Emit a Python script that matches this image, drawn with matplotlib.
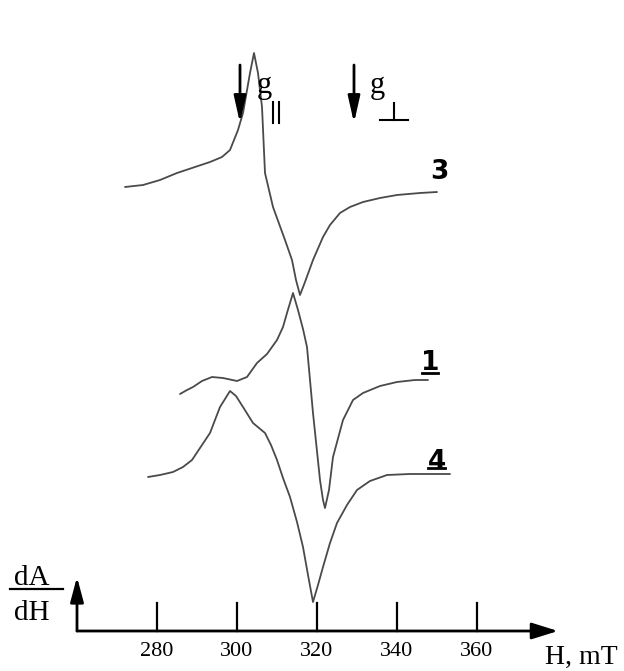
import numpy as np
import matplotlib
matplotlib.use('Agg')
import matplotlib.pyplot as plt

# EPR spectra, field H in mT, signal dA/dH in arbitrary units (curves shifted vertically)
h3 = [272.0, 276.5, 280.75, 285.0, 289.5, 293.25, 296.25, 298.25, 300.25, 301.5, 303.25, 304.25,
      305.25, 306.25, 307.0, 309.0, 312.0, 313.75, 314.75, 315.75, 317.0, 319.0, 321.5, 323.25,
      325.75, 328.25, 331.5, 335.75, 340.0, 345.75, 350.0]
s3 = [444, 446, 451, 458, 464, 469, 474, 481, 501, 518, 558, 578,
      558, 524, 458, 424, 391, 371, 351, 336, 349, 371, 394, 406,
      418, 424, 429, 433, 436, 438, 439]

h1 = [285.75, 287.5, 289.0, 291.25, 293.75, 296.5, 300.0, 302.5, 305.0, 307.5, 310.0, 311.5,
      312.5, 314.0, 315.25, 316.5, 317.5, 319.0, 320.75, 321.5, 322.0, 323.0, 324.0, 326.5,
      329.0, 331.5, 335.75, 340.0, 344.5, 347.75]
s1 = [237, 241, 244, 250, 254, 253, 250, 254, 268, 277, 291, 304,
      318, 338, 321, 302, 284, 218, 151, 131, 123, 141, 174, 211,
      231, 238, 245, 249, 251, 251]

h4 = [277.75, 280.75, 284.0, 286.5, 288.75, 290.75, 293.25, 295.75, 298.25, 299.75, 301.5, 304.0,
      307.0, 308.5, 310.0, 311.5, 313.25, 315.0, 316.5, 317.75, 319.0, 320.25, 321.5, 323.25,
      325.0, 327.5, 330.0, 333.25, 337.5, 343.25, 348.25, 353.25]
s4 = [154, 156, 159, 164, 171, 183, 198, 224, 240, 235, 224, 208,
      198, 186, 171, 153, 134, 109, 84, 56, 29, 46, 64, 88,
      108, 126, 141, 150, 156, 157, 157, 157]

tick_vals = [280, 300, 320, 340, 360]
g_par = 300.75   # g|| position
g_perp = 329.25  # g_perp position

plt.rcParams['font.family'] = ['Liberation Serif', 'DejaVu Serif']

fig = plt.figure(figsize=(6.24, 6.71), dpi=100)
ax = fig.add_axes([0, 0, 1, 1])
ax.set_xlim(240.75, 396.75)
ax.set_ylim(-40, 631)
ax.axis('off')

curve_col = '#4a4a4a'
for h, s in [(h3, s3), (h1, s1), (h4, s4)]:
    ax.plot(h, s, color=curve_col, lw=1.3, solid_joinstyle='round', solid_capstyle='round')

# curve labels
lab_kw = dict(fontsize=19, fontweight='bold', family='DejaVu Sans', ha='center', va='center')
ax.text(350.5, 459, '3', **lab_kw)
ax.text(348.25, 268, '1', **lab_kw)
ax.text(350.0, 169, '4', **lab_kw)
ax.plot([346.25, 350.25], [258, 258], color='k', lw=2)
ax.plot([347.75, 352.0], [163, 163], color='k', lw=2)

# axes with arrows
ax.annotate('', xy=(380.25, 0), xytext=(260.0, 0),
            arrowprops=dict(arrowstyle='-|>,head_length=0.8,head_width=0.25', mutation_scale=20,
                            color='k', lw=2, shrinkA=0, shrinkB=0))
ax.annotate('', xy=(260.0, 54), xytext=(260.0, 0),
            arrowprops=dict(arrowstyle='-|>,head_length=0.75,head_width=0.2', mutation_scale=20,
                            color='k', lw=2, shrinkA=0, shrinkB=0))
for t in tick_vals:
    ax.plot([t, t], [0, 28], color='k', lw=1.6)
    ax.text(t, -20, str(t), fontsize=16, ha='center', va='center')

ax.text(377.0, -33, 'H, mT', fontsize=20, ha='left', va='baseline')
ax.text(248.75, 46, 'dA', fontsize=21, ha='center', va='baseline')
ax.text(248.75, 11, 'dH', fontsize=21, ha='center', va='baseline')
ax.plot([243.25, 256.5], [42, 42], color='k', lw=1.6)

# g markers
for g in [g_par, g_perp]:
    ax.annotate('', xy=(g, 508), xytext=(g, 566),
                arrowprops=dict(arrowstyle='-|>,head_length=0.8,head_width=0.18', mutation_scale=20,
                                color='k', lw=2, shrinkA=0, shrinkB=0))
ax.text(306.75, 538, 'g', fontsize=22, ha='center', va='baseline')
ax.plot([309.0, 309.0], [508, 529], color='k', lw=1.5)
ax.plot([310.5, 310.5], [508, 529], color='k', lw=1.5)
ax.text(335.0, 538, 'g', fontsize=22, ha='center', va='baseline')
ax.plot([335.75, 342.75], [511, 511], color='k', lw=1.5)
ax.plot([339.25, 339.25], [511, 528], color='k', lw=1.5)

fig.savefig('out.png', dpi=100)
